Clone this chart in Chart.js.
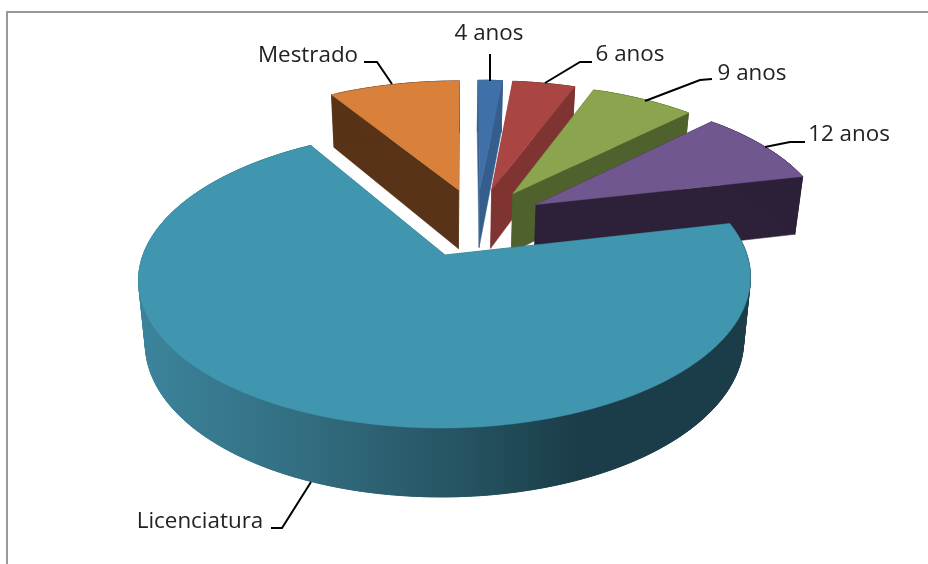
<!DOCTYPE html>
<html>
<head>
<meta charset="utf-8">
<style>
html, body { margin: 0; background: #fff; overflow: hidden; }
#frame { position: absolute; left: 6px; top: 11px; width: 922px; height: 553px; border-left: 2px solid #999; border-top: 2px solid #999; }
canvas { position: absolute; left: 0; top: 0; }
</style>
<script src="https://cdn.jsdelivr.net/npm/chart.js@4"></script>
</head>
<body>
<div id="frame"></div>
<canvas id="chart" width="928" height="564"></canvas>
<script>
const categories = ["4 anos", "6 anos", "9 anos", "12 anos", "Licenciatura", "Mestrado"]
const shares = [1.6, 4.1, 6.8, 8.9, 70, 8.6]
const topColors = ["#3F71A8", "#A94543", "#8AA54E", "#71578F", "#4096AF", "#D9813B"]
const sideColors = ["#365E8C", "#7F3432", "#4F612C", "#2D2139", null, "#583317"]
const explode = [59, 59, 59, 59, 68, 59]

// label text position and leader line for each category, same order as categories
const labelSpots = [[489, 34], [630, 55], [752, 74], [849, 135], [200, 522], [308, 56]]
const leaders = [
    [[490, 54], [490, 81]],
    [[592, 62], [580, 62], [545, 83]],
    [[712, 79], [700, 80], [645, 101]],
    [[805, 142], [790, 142], [765, 147]],
    [[271, 528], [282, 528], [311, 482]],
    [[364, 62], [377, 62], [392, 84]]
]

// perspective of the pie plane, the origin is the apex of the big slice
const view = { cx: 445, cy: 255, rx: 302, ry: 145.3, p: 0.16, vanish: 20 }

function project(x, y) {
    const w = 1 - view.p * y
    return [view.cx + view.vanish * (1 - 1 / w) + view.rx * x / w, view.cy + view.ry * y / w]
}

function drop(x, y) {
    const pt = project(x, y)
    return [view.cx + (pt[0] - view.cx) * 0.978, pt[1] + 62 + 7 * y]
}

function fillPoly(ctx, pts, fill) {
    ctx.beginPath()
    pts.forEach((pt, i) => i ? ctx.lineTo(pt[0], pt[1]) : ctx.moveTo(pt[0], pt[1]))
    ctx.closePath()
    ctx.fillStyle = fill
    ctx.strokeStyle = fill
    ctx.lineWidth = 0.5
    ctx.fill()
    ctx.stroke()
}

const pie3d = {
    id: "pie3d",
    beforeDatasetsDraw(chart) {
        const ctx = chart.ctx
        const arcs = chart.getDatasetMeta(0).data
        const big = shares.indexOf(Math.max(...shares))
        const bigMid = (arcs[big].startAngle + arcs[big].endAngle) / 2
        const bigOff = arcs[big].options.offset / arcs[big].outerRadius

        const wallFill = ctx.createLinearGradient(145, 0, 745, 0)
        wallFill.addColorStop(0, "#3B839B")
        wallFill.addColorStop(0.28, "#326C7F")
        wallFill.addColorStop(0.55, "#24515F")
        wallFill.addColorStop(0.72, "#1B3D49")
        wallFill.addColorStop(1, "#1B3D49")

        // back slices first, the big one has to cover them
        const order = arcs.map((a, i) => i).filter(i => i !== big).concat(big)
        order.forEach(i => {
            const arc = arcs[i]
            const mid = (arc.startAngle + arc.endAngle) / 2
            const off = arc.options.offset / arc.outerRadius
            const ox = off * Math.cos(mid) - bigOff * Math.cos(bigMid)
            const oy = off * Math.sin(mid) - bigOff * Math.sin(bigMid)
            const steps = Math.max(2, Math.ceil((arc.endAngle - arc.startAngle) * 60))
            const rim = []
            for (let s = 0; s <= steps; s++) {
                const a = arc.startAngle + (arc.endAngle - arc.startAngle) * s / steps
                rim.push([ox + Math.cos(a), oy + Math.sin(a)])
            }
            const side = sideColors[i] || wallFill
            const first = rim[0]
            const last = rim[rim.length - 1]
            fillPoly(ctx, [project(ox, oy), project(first[0], first[1]), drop(first[0], first[1]), drop(ox, oy)], side)
            fillPoly(ctx, [project(ox, oy), project(last[0], last[1]), drop(last[0], last[1]), drop(ox, oy)], side)
            // overlapping quads: keeps the slanted silhouette at the sides and hides the seams
            for (let s = 0; s < steps; s++) {
                const a = rim[s]
                const b = rim[Math.min(s + 3, steps)]
                fillPoly(ctx, [project(a[0], a[1]), project(b[0], b[1]), drop(b[0], b[1]), drop(a[0], a[1])], side)
            }
            const top = [project(ox, oy)].concat(rim.map(pt => project(pt[0], pt[1])))
            fillPoly(ctx, top, arc.options.backgroundColor)
        })
        return false
    },
    afterDraw(chart) {
        const ctx = chart.ctx
        ctx.save()
        ctx.strokeStyle = "#000"
        ctx.lineWidth = 2
        leaders.forEach(line => {
            ctx.beginPath()
            line.forEach((pt, i) => i ? ctx.lineTo(pt[0], pt[1]) : ctx.moveTo(pt[0], pt[1]))
            ctx.stroke()
        })
        ctx.fillStyle = "#222"
        ctx.font = "22.4px 'Open Sans'"
        ctx.textAlign = "center"
        ctx.textBaseline = "middle"
        categories.forEach((name, i) => ctx.fillText(name, labelSpots[i][0], labelSpots[i][1]))
        ctx.restore()
    }
}

new Chart(document.getElementById("chart"), {
    type: "pie",
    data: {
        labels: categories,
        datasets: [{
            data: shares,
            backgroundColor: topColors,
            borderWidth: 0,
            offset: explode
        }]
    },
    options: {
        responsive: false,
        animation: false,
        events: [],
        plugins: {
            legend: { display: false },
            tooltip: { enabled: false }
        }
    },
    plugins: [pie3d]
})
</script>
</body>
</html>
